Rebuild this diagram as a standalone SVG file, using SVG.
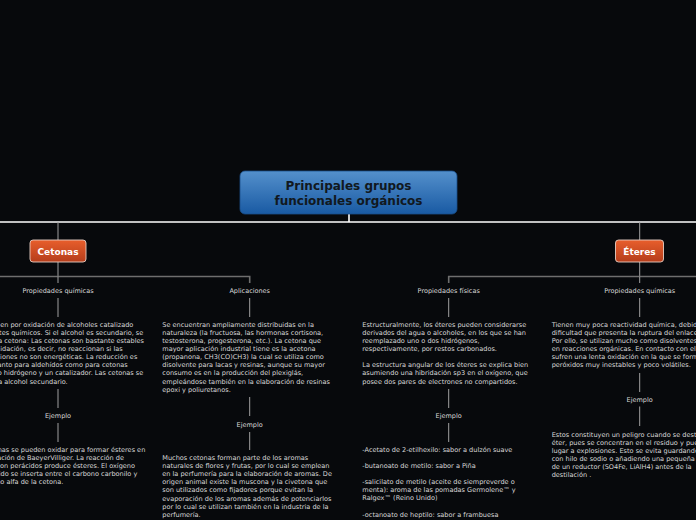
<svg xmlns="http://www.w3.org/2000/svg" width="696" height="520" viewBox="0 0 696 520">
<style>
.t{font-family:"DejaVu Sans",Verdana,sans-serif;font-size:6.55px;fill:#d8d8d8}
.lbl{font-family:"DejaVu Sans",Verdana,sans-serif;font-size:6.5px;fill:#d8d8d8;text-anchor:middle}
.title{font-family:"DejaVu Sans",Verdana,sans-serif;font-size:12px;font-weight:bold;fill:#111820;text-anchor:middle}
.node{font-family:"DejaVu Sans",Verdana,sans-serif;font-size:9px;font-weight:bold;fill:#ffffff;text-anchor:middle}
.main{stroke:#ffffff;stroke-width:1.6;fill:none}
.br{stroke:#6e6e6e;stroke-width:1.6;fill:none}
.v{stroke:#a0a0a0;stroke-width:1;fill:none}
.end{text-anchor:end}
</style>
<defs>
<linearGradient id="gBlue" x1="0" y1="0" x2="0" y2="1">
<stop offset="0" stop-color="#5490cc"/>
<stop offset="1" stop-color="#195aa3"/>
</linearGradient>
<linearGradient id="gOrange" x1="0" y1="0" x2="0" y2="1">
<stop offset="0" stop-color="#e85e2c"/>
<stop offset="1" stop-color="#b53d1b"/>
</linearGradient>
</defs>
<rect width="696" height="520" fill="#07090c"/>

<g id="connectors">
<line class="main" x1="349" y1="214" x2="349" y2="222"/>
<line class="main" x1="0" y1="222" x2="696" y2="222"/>
<line class="v" x1="58" y1="222" x2="58" y2="240"/>
<line class="v" x1="639.7" y1="222" x2="639.7" y2="240"/>
<line class="v" x1="58" y1="262" x2="58" y2="276.5"/>
<polyline class="br" points="0,276.5 249.7,276.5 249.7,283"/>
<line class="v" x1="58" y1="276.5" x2="58" y2="283"/>
<line class="v" x1="58" y1="298" x2="58" y2="317"/>
<line class="v" x1="58" y1="389" x2="58" y2="408"/>
<line class="v" x1="58" y1="423" x2="58" y2="442"/>
<line class="v" x1="249.7" y1="298" x2="249.7" y2="317"/>
<line class="v" x1="249.7" y1="397" x2="249.7" y2="416"/>
<line class="v" x1="249.7" y1="432" x2="249.7" y2="450"/>
<line class="v" x1="639.7" y1="262" x2="639.7" y2="276.5"/>
<polyline class="br" points="448.7,283 448.7,276.5 696,276.5"/>
<line class="v" x1="639.7" y1="276.5" x2="639.7" y2="283"/>
<line class="v" x1="448.7" y1="298" x2="448.7" y2="317"/>
<line class="v" x1="448.7" y1="389" x2="448.7" y2="408"/>
<line class="v" x1="448.7" y1="423" x2="448.7" y2="442"/>
<line class="v" x1="639.7" y1="298" x2="639.7" y2="317"/>
<line class="v" x1="639.7" y1="373" x2="639.7" y2="392"/>
<line class="v" x1="639.7" y1="406.5" x2="639.7" y2="426"/>
</g>

<g id="root">
<rect x="240" y="171" width="217" height="43" rx="5" fill="url(#gBlue)" stroke="#1a4f8a" stroke-width="0.8"/>
<text class="title" x="348.5" y="190">Principales grupos</text>
<text class="title" x="348.5" y="204.5">funcionales orgánicos</text>
</g>

<g id="cetonas">
<rect x="30" y="240" width="56" height="22" rx="3" fill="url(#gOrange)" stroke="#e8cfc4" stroke-width="0.9"/>
<text class="node" x="58" y="254.8">Cetonas</text>
</g>

<g id="eteres">
<rect x="615.5" y="240" width="48" height="22" rx="3" fill="url(#gOrange)" stroke="#e8cfc4" stroke-width="0.9"/>
<text class="node" x="639.5" y="254.8">Éteres</text>
</g>

<g id="cet-propq">
<text class="lbl" x="58" y="293">Propiedades químicas</text>
<text class="t end" x="133.3" y="326.5">Se obtienen por oxidación de alcoholes catalizado</text>
<text class="t end" x="143.3" y="334.65">por agentes químicos. Si el alcohol es secundario, se</text>
<text class="t end" x="144" y="342.8">obtiene una cetona: Las cetonas son bastante estables</text>
<text class="t end" x="122.7" y="350.95">a la oxidación, es decir, no reaccionan si las</text>
<text class="t end" x="137.3" y="359.1">condiciones no son energéticas. La reducción es</text>
<text class="t end" x="127.7" y="367.25">importante tanto para aldehídos como para cetonas</text>
<text class="t end" x="143.3" y="375.4">utilizando hidrógeno y un catalizador. Las cetonas se</text>
<text class="t end" x="67.7" y="383.55">reducen a alcohol secundario.</text>
</g>
<g id="cet-propq-ej">
<text class="lbl" x="58" y="418">Ejemplo</text>
<text class="t end" x="145.3" y="451.5">Las cetonas se pueden oxidar para formar ésteres en</text>
<text class="t end" x="124" y="459.65">la oxidación de BaeyerVilliger. La reacción de</text>
<text class="t end" x="135" y="467.8">cetonas con perácidos produce ésteres. El oxígeno</text>
<text class="t end" x="137.3" y="475.95">añadido se inserta entre el carbono carbonilo y</text>
<text class="t end" x="63.3" y="484.1">el carbono alfa de la cetona.</text>
</g>

<g id="cet-aplic">
<text class="lbl" x="249.7" y="293">Aplicaciones</text>
<text class="t" x="162.3" y="326.5">Se encuentran ampliamente distribuidas en la</text>
<text class="t" x="162.3" y="334.65">naturaleza (la fructuosa, las hormonas cortisona,</text>
<text class="t" x="162.3" y="342.8">testosterona, progesterona, etc.). La cetona que</text>
<text class="t" x="162.3" y="350.95">mayor aplicación industrial tiene es la acetona</text>
<text class="t" x="162.3" y="359.1">(propanona, CH3(CO)CH3) la cual se utiliza como</text>
<text class="t" x="162.3" y="367.25">disolvente para lacas y resinas, aunque su mayor</text>
<text class="t" x="162.3" y="375.4">consumo es en la producción del plexiglás,</text>
<text class="t" x="162.3" y="383.55">empleándose también en la elaboración de resinas</text>
<text class="t" x="162.3" y="391.7">epoxi y poliuretanos.</text>
</g>
<g id="cet-aplic-ej">
<text class="lbl" x="249.7" y="426.5">Ejemplo</text>
<text class="t" x="162.3" y="459.8">Muchos cetonas forman parte de los aromas</text>
<text class="t" x="162.3" y="467.95">naturales de flores y frutas, por lo cual se emplean</text>
<text class="t" x="162.3" y="476.1">en la perfumería para la elaboración de aromas. De</text>
<text class="t" x="162.3" y="484.25">origen animal existe la muscona y la civetona que</text>
<text class="t" x="162.3" y="492.4">son utilizados como fijadores porque evitan la</text>
<text class="t" x="162.3" y="500.55">evaporación de los aromas además de potenciarlos</text>
<text class="t" x="162.3" y="508.7">por lo cual se utilizan también en la industria de la</text>
<text class="t" x="162.3" y="516.85">perfumería.</text>
</g>

<g id="ete-propf">
<text class="lbl" x="448.7" y="293">Propiedades físicas</text>
<text class="t" x="362.3" y="326.5">Estructuralmente, los éteres pueden considerarse</text>
<text class="t" x="362.3" y="334.65">derivados del agua o alcoholes, en los que se han</text>
<text class="t" x="362.3" y="342.8">reemplazado uno o dos hidrógenos,</text>
<text class="t" x="362.3" y="350.95">respectivamente, por restos carbonados.</text>
<text class="t" x="362.3" y="367.25">La estructura angular de los éteres se explica bien</text>
<text class="t" x="362.3" y="375.4">asumiendo una hibridación sp3 en el oxígeno, que</text>
<text class="t" x="362.3" y="383.55">posee dos pares de electrones no compartidos.</text>
</g>
<g id="ete-propf-ej">
<text class="lbl" x="448.7" y="418">Ejemplo</text>
<text class="t" x="362.3" y="451.5">-Acetato de 2-etilhexilo: sabor a dulzón suave</text>
<text class="t" x="362.3" y="467.8">-butanoato de metilo: sabor a Piña</text>
<text class="t" x="362.3" y="484.1">-salicilato de metilo (aceite de siempreverde o</text>
<text class="t" x="362.3" y="492.25">menta): aroma de las pomadas Germolene™ y</text>
<text class="t" x="362.3" y="500.4">Ralgex™ (Reino Unido)</text>
<text class="t" x="362.3" y="516.7">-octanoato de heptilo: sabor a frambuesa</text>
</g>

<g id="ete-propq">
<text class="lbl" x="639.7" y="293">Propiedades químicas</text>
<text class="t" x="551.7" y="326.5">Tienen muy poca reactividad química, debido a la</text>
<text class="t" x="551.7" y="334.65">dificultad que presenta la ruptura del enlace C-O.</text>
<text class="t" x="551.7" y="342.8">Por ello, se utilizan mucho como disolventes inertes</text>
<text class="t" x="551.7" y="350.95">en reacciones orgánicas. En contacto con el aire</text>
<text class="t" x="551.7" y="359.1">sufren una lenta oxidación en la que se forman</text>
<text class="t" x="551.7" y="367.25">peróxidos muy inestables y poco volátiles.</text>
</g>
<g id="ete-propq-ej">
<text class="lbl" x="639.7" y="401.5">Ejemplo</text>
<text class="t" x="551.7" y="436.5">Estos constituyen un peligro cuando se destila el</text>
<text class="t" x="551.7" y="444.65">éter, pues se concentran en el residuo y pueden dar</text>
<text class="t" x="551.7" y="452.8">lugar a explosiones. Esto se evita guardando el éter</text>
<text class="t" x="551.7" y="460.95">con hilo de sodio o añadiendo una pequeña cantidad</text>
<text class="t" x="551.7" y="469.1">de un reductor (SO4Fe, LiAlH4) antes de la</text>
<text class="t" x="551.7" y="477.25">destilación .</text>
</g>
</svg>
